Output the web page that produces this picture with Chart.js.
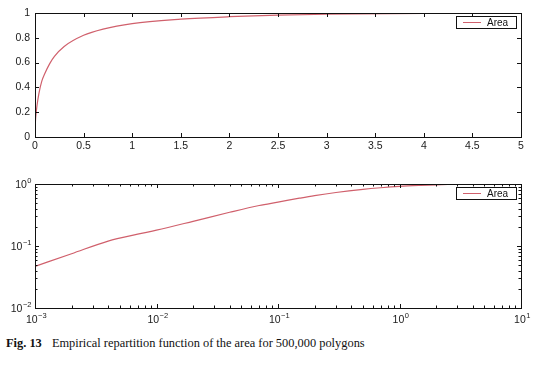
<!DOCTYPE html>
<html>
<head>
<meta charset="utf-8">
<script src="https://cdn.jsdelivr.net/npm/chart.js@4.4.1/dist/chart.umd.min.js"></script>
<style>
  body { margin: 0; background: #fff; width: 540px; height: 368px; position: relative; overflow: hidden; }
  .box { position: absolute; left: 0; width: 540px; }
  #topBox { top: 0; height: 160px; }
  #botBox { top: 160px; height: 170px; }
  #caption { position: absolute; left: 6px; top: 336px; font: 12.4px "Liberation Serif", serif; color: #111; }
  #caption b { margin-right: 7px; }
</style>
</head>
<body>
<div class="box" id="topBox"><canvas id="topChart"></canvas></div>
<div class="box" id="botBox"><canvas id="botChart"></canvas></div>
<div id="caption"><b>Fig. 13</b> Empirical repartition function of the area for 500,000 polygons</div>
<script>
//DATA
const areaX = [0, 0.001, 0.002, 0.004, 0.007, 0.01, 0.02, 0.04, 0.07, 0.1, 0.15, 0.2, 0.3, 0.5, 0.7, 1, 1.5, 2, 2.5, 3, 4, 5, 7, 10];
const areaCdf = [0, 0.047, 0.075, 0.12, 0.155, 0.18, 0.25, 0.35, 0.45, 0.51, 0.59, 0.65, 0.73, 0.82, 0.87, 0.915, 0.95, 0.97, 0.983, 0.99, 0.997, 1, 1, 1];
const seriesName = "Area";
const linYTicks = [0, 0.2, 0.4, 0.6, 0.8, 1];
const linXTicks = [0, 0.5, 1, 1.5, 2, 2.5, 3, 3.5, 4, 4.5, 5];
const logXTicks = [1e-3, 1e-2, 1e-1, 1, 10];
const logYTicks = [1e-2, 1e-1, 1];

const lineColor = "#d0606c";
const labelFont = "'Liberation Sans', Arial, sans-serif";
Chart.defaults.font.family = labelFont;
Chart.defaults.font.size = 10.5;
Chart.defaults.color = "#1a1a1a";

// "10" with a raised exponent, drawn at the scale's own tick positions
function drawPow(ctx, v, x, y, align) {
  const e = String(Math.round(Math.log10(v))).replace("-", "\u2212");
  ctx.font = "10.5px " + labelFont;
  const bw = ctx.measureText("10").width;
  ctx.font = "7.5px " + labelFont;
  const ew = ctx.measureText(e).width;
  let x0 = align === "right" ? x - bw - ew : x - (bw + ew) / 2 + 1;
  ctx.textBaseline = "middle";
  ctx.textAlign = "left";
  ctx.font = "10.5px " + labelFont;
  ctx.fillText("10", x0, y + 1);
  ctx.font = "7.5px " + labelFont;
  ctx.fillText(e, x0 + bw + 0.5, y - 3.5);
}

// box, inward ticks, log labels and the legend drawn matlab style
const frameTicks = {
  id: "frameTicks",
  afterDraw(chart) {
    const ctx = chart.ctx;
    const a = chart.chartArea;
    const xs = chart.scales.x;
    const ys = chart.scales.y;
    ctx.save();
    ctx.strokeStyle = "#111";
    ctx.lineWidth = 1;
    ctx.strokeRect(a.left + 0.5, a.top + 0.5, a.right - a.left, a.bottom - a.top);

    function xTick(px, len) {
      px = Math.round(px) + 0.5;
      ctx.beginPath();
      ctx.moveTo(px, a.bottom); ctx.lineTo(px, a.bottom - len);
      ctx.moveTo(px, a.top); ctx.lineTo(px, a.top + len);
      ctx.stroke();
    }
    function yTick(py, len) {
      py = Math.round(py) + 0.5;
      ctx.beginPath();
      ctx.moveTo(a.left, py); ctx.lineTo(a.left + len, py);
      ctx.moveTo(a.right, py); ctx.lineTo(a.right - len, py);
      ctx.stroke();
    }
    xs.ticks.forEach((t) => xTick(xs.getPixelForValue(t.value), 4));
    ys.ticks.forEach((t) => yTick(ys.getPixelForValue(t.value), 4));
    if (xs.type === "logarithmic") {
      for (let d = xs.min; d < xs.max; d *= 10) {
        for (let k = 2; k < 10; k++) xTick(xs.getPixelForValue(d * k), 2.5);
      }
      for (let d = ys.min; d < ys.max; d *= 10) {
        for (let k = 2; k < 10; k++) yTick(ys.getPixelForValue(d * k), 2.5);
      }
      ctx.fillStyle = "#1a1a1a";
      xs.ticks.forEach((t) => drawPow(ctx, t.value, xs.getPixelForValue(t.value), a.bottom + 11, "center"));
      ys.ticks.forEach((t) => drawPow(ctx, t.value, a.left - 4, ys.getPixelForValue(t.value), "right"));
    }

    // legend
    const lx = a.right - 65, ly = a.top + 3, lw = 60, lh = 12;
    ctx.fillStyle = "#fff";
    ctx.fillRect(lx, ly, lw, lh);
    ctx.strokeStyle = "#111";
    ctx.strokeRect(lx + 0.5, ly + 0.5, lw, lh);
    ctx.strokeStyle = lineColor;
    ctx.beginPath();
    ctx.moveTo(lx + 7, ly + 6.5); ctx.lineTo(lx + 25, ly + 6.5);
    ctx.stroke();
    ctx.fillStyle = "#111";
    ctx.font = "10px " + labelFont;
    ctx.textAlign = "left";
    ctx.textBaseline = "middle";
    ctx.fillText(seriesName, lx + 31, ly + 7);
    ctx.restore();
  },
};

function fixWidth(w) { return (s) => { s.width = w; }; }
function fixHeight(h) { return (s) => { s.height = h; }; }

const dataset = (pts) => ({
  label: seriesName,
  data: pts,
  borderColor: lineColor,
  borderWidth: 1.2,
  pointRadius: 0,
  fill: false,
  cubicInterpolationMode: "monotone",
});

const noGrid = { display: false, drawTicks: false };

//top chart, linear axes
const topPts = areaX.map((x, i) => ({ x: x, y: areaCdf[i] })).filter((p) => p.x <= 5);
new Chart(document.getElementById("topChart"), {
  type: "line",
  data: { datasets: [dataset(topPts)] },
  options: {
    responsive: true,
    maintainAspectRatio: false,
    animation: false,
    layout: { padding: { top: 13, right: 19, left: 0, bottom: 0 } },
    plugins: { legend: { display: false }, tooltip: { enabled: false } },
    scales: {
      x: {
        type: "linear", min: 0, max: 5,
        afterBuildTicks: (s) => { s.ticks = linXTicks.map((v) => ({ value: v })); },
        afterFit: fixHeight(23),
        grid: noGrid, border: { display: false },
        ticks: { padding: 3, maxRotation: 0, autoSkip: false, callback: (v) => String(v) },
      },
      y: {
        type: "linear", min: 0, max: 1,
        afterBuildTicks: (s) => { s.ticks = linYTicks.map((v) => ({ value: v })); },
        afterFit: fixWidth(35),
        grid: noGrid, border: { display: false },
        ticks: { padding: 5, autoSkip: false, callback: (v) => String(v) },
      },
    },
  },
  plugins: [frameTicks],
});

//bottom chart, log-log axes
const botPts = areaX.map((x, i) => ({ x: x, y: areaCdf[i] })).filter((p) => p.x > 0);
new Chart(document.getElementById("botChart"), {
  type: "line",
  data: { datasets: [dataset(botPts)] },
  options: {
    responsive: true,
    maintainAspectRatio: false,
    animation: false,
    layout: { padding: { top: 24, right: 19, left: 0, bottom: 0 } },
    plugins: { legend: { display: false }, tooltip: { enabled: false } },
    scales: {
      x: {
        type: "logarithmic", min: 1e-3, max: 10,
        afterBuildTicks: (s) => { s.ticks = logXTicks.map((v) => ({ value: v })); },
        afterFit: fixHeight(22),
        grid: noGrid, border: { display: false },
        ticks: { display: false },
      },
      y: {
        type: "logarithmic", min: 1e-2, max: 1,
        afterBuildTicks: (s) => { s.ticks = logYTicks.map((v) => ({ value: v })); },
        afterFit: fixWidth(35),
        grid: noGrid, border: { display: false },
        ticks: { display: false },
      },
    },
  },
  plugins: [frameTicks],
});
</script>
</body>
</html>
